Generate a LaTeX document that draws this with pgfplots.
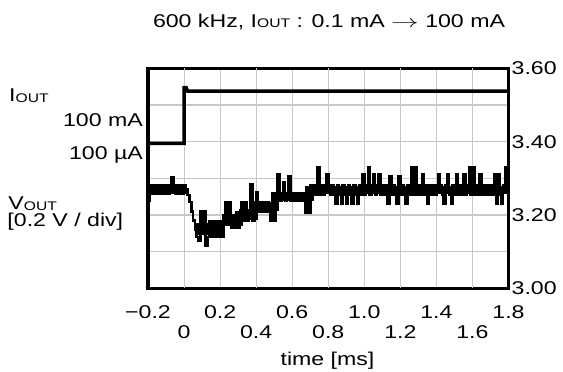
\documentclass[border=0pt]{standalone}
\usepackage{fontspec}
\setmainfont{Liberation Sans}[FakeStretch=1.25]
\usepackage{pgfplots}
\pgfplotsset{compat=1.18}
\newcommand{\sub}[1]{\raisebox{-0.6pt}{\fontsize{12.5}{12.5}\selectfont #1}}
\begin{document}
\fontsize{18.5}{21}\selectfont
\begin{tikzpicture}[x=1pt,y=1pt,font=\fontsize{18.5}{21}\selectfont]
\path[use as bounding box] (0,0) rectangle (563,372);
\begin{axis}[
  at={(148pt,83.7pt)}, anchor=south west,
  width=360.5pt, height=220pt, scale only axis,
  xmin=-0.2, xmax=1.8, ymin=3.0, ymax=3.6,
  axis line style={line width=3.3pt},
  xtick={-0.2,0.2,0.6,1.0,1.4,1.8},
  xticklabels={−0.2,0.2,0.6,1.0,1.4,1.8},
  extra x ticks={0,0.4,0.8,1.2,1.6},
  extra x tick labels={0,0.4,0.8,1.2,1.6},
  extra x tick style={grid=major, xticklabel style={yshift=-20pt}},
  xticklabel style={anchor=base, inner sep=0pt, yshift=-30.5pt},
  ytick={3.0,3.2,3.4,3.6},
  yticklabels={3.00,3.20,3.40,3.60},
  minor ytick={3.1,3.3,3.5},
  yticklabel pos=right,
  yticklabel style={anchor=west, inner sep=0pt, xshift=3pt},
  grid=both,
  grid style={line width=1.1pt, color=black!22},
  minor grid style={line width=1.1pt, color=black!22},
  major tick length=0pt, minor tick length=0pt,
  unbounded coords=jump,
]
% I_OUT
\addplot[black, line width=3.5pt, line join=miter] coordinates {
(-0.2,3.3955) (0.0,3.3955) (0.0,3.547) (0.012,3.547) (0.02,3.538) (1.8,3.538)};
% V_OUT dense-noise band (centre of the toggling band, per segment)
\addplot[black, line width=8.5pt, line cap=butt, line join=miter] coordinates {
(-0.2,3.269) (0.015,3.269) (0.015,nan)
(0.215,3.182) (0.305,3.182) (0.305,3.198) (0.385,3.198) (0.385,3.2225)
(0.505,3.2225) (0.505,3.25) (0.695,3.25) (0.695,3.2675) (1.8,3.2675)};
\addplot[black, line width=12pt, line cap=butt] coordinates {
(0.065,3.161) (0.215,3.161)};
% V_OUT trace
\addplot[black, line width=2.6pt, const plot, line join=miter] coordinates {
(-0.20,3.240) (-0.19,3.258) (-0.18,3.280) (-0.17,3.258) (-0.16,3.280) (-0.15,3.258)
(-0.14,3.280) (-0.13,3.258) (-0.12,3.280) (-0.11,3.258) (-0.10,3.280) (-0.09,3.258)
(-0.08,3.280) (-0.07,3.303) (-0.06,3.280) (-0.05,3.258) (-0.04,3.280) (-0.03,3.258)
(-0.02,3.280) (-0.01,3.258) (0.00,3.280) (0.01,3.270) (0.02,3.255) (0.03,3.235)
(0.04,3.210) (0.05,3.185) (0.06,3.160) (0.07,3.140) (0.08,3.130) (0.09,3.210)
(0.10,3.183) (0.11,3.210) (0.12,3.116) (0.13,3.140) (0.14,3.183) (0.15,3.140)
(0.16,3.183) (0.17,3.140) (0.18,3.183) (0.19,3.140) (0.20,3.183) (0.21,3.140)
(0.22,3.198) (0.23,3.235) (0.24,3.198) (0.25,3.235) (0.26,3.166) (0.27,3.198)
(0.28,3.166) (0.29,3.198) (0.30,3.166) (0.31,3.212) (0.32,3.235) (0.33,3.184)
(0.34,3.235) (0.35,3.184) (0.36,3.212) (0.37,3.285) (0.38,3.184) (0.39,3.235)
(0.40,3.262) (0.41,3.210) (0.42,3.235) (0.43,3.210) (0.44,3.235) (0.45,3.210)
(0.46,3.235) (0.47,3.210) (0.48,3.184) (0.49,3.235) (0.50,3.184) (0.51,3.260)
(0.52,3.310) (0.53,3.240) (0.54,3.260) (0.55,3.290) (0.56,3.240) (0.57,3.260)
(0.58,3.305) (0.59,3.240) (0.60,3.260) (0.61,3.240) (0.62,3.260) (0.63,3.240)
(0.64,3.260) (0.65,3.240) (0.66,3.260) (0.67,3.207) (0.68,3.260) (0.69,3.207)
(0.70,3.280) (0.71,3.255) (0.72,3.280) (0.73,3.255) (0.74,3.330) (0.75,3.255)
(0.76,3.280) (0.77,3.255) (0.78,3.280) (0.79,3.310) (0.80,3.280) (0.81,3.255)
(0.82,3.280) (0.83,3.255) (0.84,3.232) (0.85,3.280) (0.86,3.255) (0.87,3.232)
(0.88,3.280) (0.89,3.255) (0.90,3.232) (0.91,3.280) (0.92,3.255) (0.93,3.232)
(0.94,3.280) (0.95,3.255) (0.96,3.232) (0.97,3.280) (0.98,3.255) (0.99,3.310)
(1.00,3.255) (1.01,3.280) (1.02,3.330) (1.03,3.255) (1.04,3.280) (1.05,3.310)
(1.06,3.255) (1.07,3.280) (1.08,3.310) (1.09,3.255) (1.10,3.280) (1.11,3.255)
(1.12,3.280) (1.13,3.232) (1.14,3.305) (1.15,3.255) (1.16,3.280) (1.17,3.255)
(1.18,3.232) (1.19,3.305) (1.20,3.255) (1.21,3.280) (1.22,3.255) (1.23,3.232)
(1.24,3.280) (1.25,3.255) (1.26,3.330) (1.27,3.255) (1.28,3.330) (1.29,3.255)
(1.30,3.280) (1.31,3.255) (1.32,3.310) (1.33,3.255) (1.34,3.280) (1.35,3.232)
(1.36,3.280) (1.37,3.255) (1.38,3.280) (1.39,3.255) (1.40,3.280) (1.41,3.310)
(1.42,3.280) (1.43,3.255) (1.44,3.232) (1.45,3.280) (1.46,3.310) (1.47,3.255)
(1.48,3.232) (1.49,3.280) (1.50,3.255) (1.51,3.310) (1.52,3.255) (1.53,3.280)
(1.54,3.255) (1.55,3.310) (1.56,3.255) (1.57,3.280) (1.58,3.330) (1.59,3.255)
(1.60,3.330) (1.61,3.255) (1.62,3.280) (1.63,3.255) (1.64,3.310) (1.65,3.255)
(1.66,3.280) (1.67,3.255) (1.68,3.280) (1.69,3.255) (1.70,3.280) (1.71,3.255)
(1.72,3.310) (1.73,3.232) (1.74,3.310) (1.75,3.255) (1.76,3.232) (1.77,3.280)
(1.78,3.330) (1.79,3.270) (1.80,3.330)};
\end{axis}
\node[anchor=base, inner sep=0pt] at (329,344.7) {600 kHz, I\sub{OUT} : 0.1 mA \scalebox{1.6}[1]{$\rightarrow$} 100 mA};
\node[anchor=base west, inner sep=0pt] at (9,270) {I\sub{OUT}};
\node[anchor=base east, inner sep=0pt] at (143,245.3) {100 mA};
\node[anchor=base east, inner sep=0pt] at (143,212) {100 µA};
\node[anchor=base west, inner sep=0pt] at (8.3,162) {V\sub{OUT}};
\node[anchor=base west, inner sep=0pt] at (7.3,145.3) {[0.2 V / div]};
\node[anchor=base, inner sep=0pt] at (327.5,6.5) {time [ms]};
\end{tikzpicture}
\end{document}
